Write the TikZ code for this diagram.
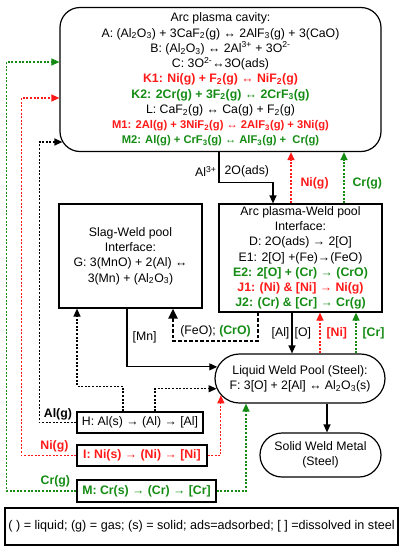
\documentclass[tikz,border=0pt]{standalone}
\usepackage{fontspec}
\setmainfont{Liberation Sans}
\usetikzlibrary{arrows.meta,shapes.misc}
\definecolor{nired}{RGB}{255,25,25}
\definecolor{crgreen}{RGB}{20,140,20}
\newcommand{\dn}[1]{\textsubscript{#1}}
\newcommand{\hi}[1]{\textsuperscript{#1}}
\tikzset{
  box/.style={draw,line width=1.2pt,align=center,inner sep=2pt},
  pool/.style={box,rounded rectangle},
  arr/.style={line width=1.2pt,-{Triangle[length=8pt,width=7pt]}},
  dots/.style={line width=1.2pt,dash pattern=on 2pt off 1.6pt},
  bigdash/.style={line width=2.2pt,dash pattern=on 3.5pt off 2pt,-{Triangle[length=10pt,width=9pt]}},
  lbl/.style={inner sep=1pt},
  bold/.style={font=\fontsize{12.3}{15.25}\selectfont\bfseries},
}
\begin{document}
\begin{tikzpicture}[x=1pt,y=-1pt,font=\fontsize{12.3}{15.25}\selectfont]
\useasboundingbox (0,0) rectangle (404,550);
% boxes
\node[box,rounded corners=20pt,minimum width=321pt,minimum height=144pt] (cavity) at (220.5,79.5)
  {Arc plasma cavity:\\
   A: (Al\dn{2}O\dn{3}) + 3CaF\dn{2}(g) ↔ 2AlF\dn{3}(g) + 3(CaO)\\
   B: (Al\dn{2}O\dn{3}) ↔ 2Al\hi{3+} + 3O\hi{2-}\\
   C: 3O\hi{2-}↔3O(ads)\\
   \textcolor{nired}{\bfseries K1: Ni(g) + F\dn{2}(g) ↔ NiF\dn{2}(g)}\\
   \textcolor{crgreen}{\bfseries K2: 2Cr(g) + 3F\dn{2}(g) ↔ 2CrF\dn{3}(g)}\\
   L: CaF\dn{2}(g) ↔ Ca(g) + F\dn{2}(g)\\
   \textcolor{nired}{\fontsize{11.2}{15.25}\selectfont\bfseries M1: 2Al(g) + 3NiF\dn{2}(g) ↔ 2AlF\dn{3}(g) + 3Ni(g)}\\
   \textcolor{crgreen}{\fontsize{11.2}{15.25}\selectfont\bfseries M2: Al(g) + CrF\dn{3}(g) ↔ AlF\dn{3}(g) +\ \ Cr(g)}};
\node[box,minimum width=143pt,minimum height=104pt] (slag) at (130.5,256)
  {Slag-Weld pool\\ Interface:\\ G: 3(MnO) + 2(Al) ↔\\ 3(Mn) + (Al\dn{2}O\dn{3})};
\node[box,minimum width=163pt,minimum height=108pt] (arcwp) at (300.5,258)
  {Arc plasma-Weld pool\\ Interface:\\ D: 2O(ads) → 2[O]\\ E1: 2[O] +(Fe)→(FeO)\\
   \textcolor{crgreen}{\bfseries E2: 2[O] + (Cr) → (CrO)}\\
   \textcolor{nired}{\bfseries J1: (Ni) \& [Ni] → Ni(g)}\\
   \textcolor{crgreen}{\bfseries J2: (Cr) \& [Cr] → Cr(g)}};
\node[pool,minimum width=174pt,minimum height=49pt] (liquid) at (300,378.5)
  {Liquid Weld Pool (Steel):\\ F: 3[O] + 2[Al] ↔ Al\dn{2}O\dn{3}(s)};
\node[pool,minimum width=125pt,minimum height=44pt] (solid) at (320.5,455)
  {Solid Weld Metal\\ (Steel)};
\node[box,minimum width=126pt,minimum height=21pt] (H) at (140,422.5)
  {H: Al(s) → (Al) → [Al]};
\node[box,bold,text=nired,minimum width=130pt,minimum height=21pt] (I) at (142,455.5)
  {I: Ni(s) → (Ni) → [Ni]};
\node[box,bold,text=crgreen,minimum width=139pt,minimum height=22pt] (M) at (146.5,491)
  {M: Cr(s) → (Cr) → [Cr]};
\node[box,minimum width=393pt,minimum height=37pt,font=\fontsize{12.6}{15}\selectfont] (legend) at (201.5,526.5)
  {( ) = liquid; (g) = gas; (s) = solid; ads=adsorbed; [ ] =dissolved in steel};
% cavity to arc plasma-weld pool
\draw[arr] ([xshift=-1.5pt]cavity.south) -- ++(0,30)
  node[lbl,pos=0.65,left=1pt]{Al\hi{3+}} node[lbl,pos=0.65,right=4pt]{2O(ads)}
  -| (273,0 |- arcwp.north);
\draw[dots,arr,nired] (291,0 |- arcwp.north) -- (291,0 |- cavity.south) node[lbl,bold,pos=0.4,right=8pt]{Ni(g)};
\draw[dots,arr,crgreen] (344,0 |- arcwp.north) -- (344,0 |- cavity.south) node[lbl,bold,pos=0.4,right=7pt]{Cr(g)};
% arc plasma-weld pool and liquid pool
\draw[arr] (292,0 |- arcwp.south) -- (292,0 |- liquid.north)
  node[lbl,midway,left=1pt]{[Al]} node[lbl,midway,right=1pt]{[O]};
\draw[dots,arr,nired] ([xshift=20pt]liquid.north) -- ([xshift=20pt]liquid.north |- arcwp.south)
  node[lbl,bold,midway,right=5pt]{[Ni]};
\draw[dots,arr,crgreen] ([xshift=56pt]liquid.north) -- ([xshift=56pt]liquid.north |- arcwp.south)
  node[lbl,bold,midway,right=5pt]{[Cr]};
\draw[bigdash] (258,0 |- arcwp.south) -- ++(0,28) -- ++(-85,0)
  node[lbl,midway,above=1pt]{(FeO); \textcolor{crgreen}{\bfseries (CrO)}} -- (173,0 |- slag.south);
\draw[arr] (127,0 |- slag.south) |- (liquid.172) node[lbl,pos=0.25,right=4pt]{[Mn]};
\draw[arr] ([xshift=27pt]liquid.south) -- ([xshift=27pt]liquid.south |- solid.north);
% H, I, M
\draw[dots,arr] ([xshift=-17pt]H.north) -- ++(0,-25) -| ([xshift=-53.5pt]slag.south);
\draw[dots,arr] ([xshift=15pt]H.north) |- (liquid.187);
\draw[dots,arr] (H.west) -- ++(-37,0) node[lbl,bold,midway,above=1pt]{Al(g)}
  |- ([xshift=3pt]cavity.west |- 0,142);
\draw[dots,arr,nired] (I.east) -| (liquid.192);
\draw[dots,arr,nired] (I.west) -- ++(-55,0) node[lbl,bold,pos=0.4,above=2pt]{Ni(g)}
  |- (cavity.west |- 0,98);
\draw[dots,arr,crgreen] (M.east) -| ([xshift=-54pt]liquid.south);
\draw[dots,arr,crgreen] (M.west) -- ++(-70,0) node[lbl,bold,pos=0.3,above=2pt]{Cr(g)}
  |- (cavity.west |- 0,62);
\end{tikzpicture}
\end{document}
